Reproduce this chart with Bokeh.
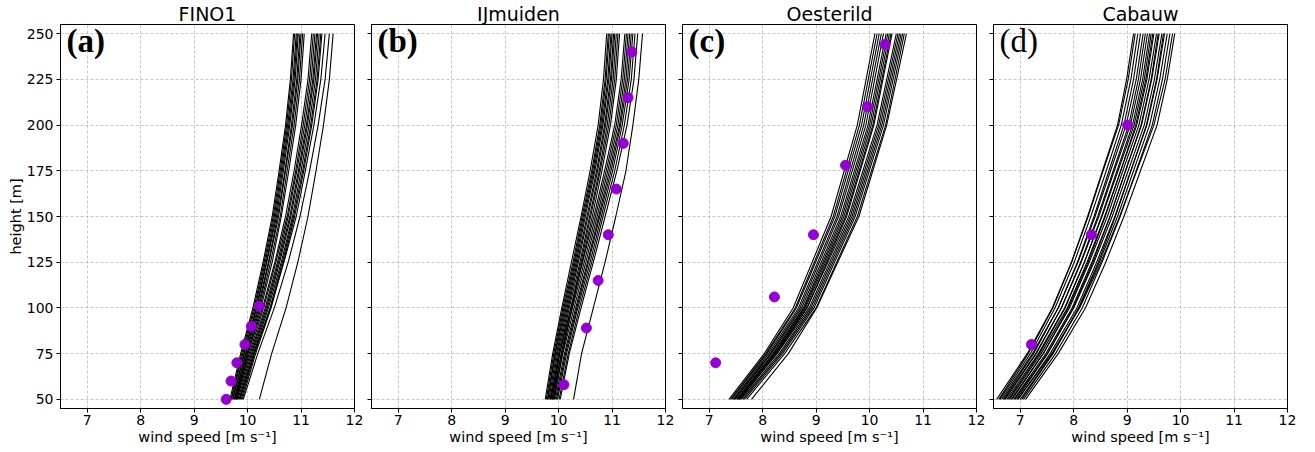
from bokeh.plotting import figure
from bokeh.layouts import row
from bokeh.models import FixedTicker, Label, Range1d, CustomJSTickFormatter, Spacer
from bokeh.embed import file_html
from bokeh.resources import INLINE

# ---------------- data ----------------
titles = ["FINO1", "IJmuiden", "Oesterild", "Cabauw"]
panel_tags = ["(a)", "(b)", "(c)", "(d)"]
x_ticks = [7, 8, 9, 10, 11, 12]
y_ticks = [50, 75, 100, 125, 150, 175, 200, 225, 250]

heights = [50, 75, 100, 125, 150, 175, 200, 225, 250]
heights_oes = [50, 75, 100, 150, 200, 250]

fino1_lines = [
    [9.67, 9.87, 10.10, 10.29, 10.46, 10.59, 10.71, 10.80, 10.86],
    [9.69, 9.89, 10.12, 10.31, 10.48, 10.61, 10.73, 10.82, 10.88],
    [9.70, 9.91, 10.14, 10.33, 10.50, 10.63, 10.75, 10.85, 10.91],
    [9.72, 9.93, 10.16, 10.35, 10.52, 10.65, 10.77, 10.87, 10.93],
    [9.73, 9.94, 10.17, 10.36, 10.54, 10.67, 10.79, 10.89, 10.95],
    [9.75, 9.96, 10.19, 10.39, 10.56, 10.70, 10.82, 10.92, 10.98],
    [9.76, 9.97, 10.21, 10.40, 10.58, 10.71, 10.84, 10.94, 11.00],
    [9.78, 9.99, 10.23, 10.43, 10.61, 10.74, 10.87, 10.97, 11.03],
    [9.80, 10.01, 10.25, 10.46, 10.63, 10.77, 10.90, 11.00, 11.06],
    [9.76, 10.00, 10.28, 10.51, 10.71, 10.87, 11.01, 11.13, 11.20],
    [9.78, 10.03, 10.30, 10.53, 10.74, 10.90, 11.04, 11.16, 11.23],
    [9.80, 10.05, 10.33, 10.56, 10.76, 10.92, 11.07, 11.19, 11.26],
    [9.82, 10.07, 10.35, 10.58, 10.79, 10.95, 11.10, 11.22, 11.29],
    [9.84, 10.09, 10.37, 10.60, 10.81, 10.97, 11.12, 11.24, 11.31],
    [9.86, 10.11, 10.39, 10.63, 10.84, 11.00, 11.15, 11.27, 11.34],
    [9.88, 10.13, 10.42, 10.65, 10.86, 11.03, 11.18, 11.30, 11.37],
    [9.90, 10.15, 10.44, 10.67, 10.88, 11.05, 11.20, 11.32, 11.39],
    [9.85, 10.12, 10.43, 10.68, 10.91, 11.08, 11.24, 11.37, 11.45],
    [9.92, 10.19, 10.50, 10.76, 10.98, 11.16, 11.32, 11.45, 11.53],
    [10.22, 10.45, 10.72, 10.94, 11.13, 11.28, 11.42, 11.53, 11.60],
]

ijmuiden_lines = [
    [9.75, 9.89, 10.06, 10.24, 10.42, 10.59, 10.74, 10.84, 10.90],
    [9.77, 9.91, 10.08, 10.27, 10.44, 10.62, 10.77, 10.87, 10.93],
    [9.79, 9.93, 10.10, 10.29, 10.46, 10.64, 10.79, 10.89, 10.95],
    [9.80, 9.94, 10.12, 10.31, 10.48, 10.66, 10.81, 10.92, 10.98],
    [9.82, 9.96, 10.14, 10.33, 10.50, 10.68, 10.83, 10.94, 11.00],
    [9.84, 9.98, 10.16, 10.35, 10.53, 10.71, 10.86, 10.97, 11.03],
    [9.86, 10.00, 10.18, 10.37, 10.55, 10.73, 10.88, 10.99, 11.05],
    [9.88, 10.02, 10.20, 10.40, 10.58, 10.76, 10.91, 11.02, 11.08],
    [9.90, 10.05, 10.23, 10.42, 10.60, 10.78, 10.94, 11.05, 11.11],
    [9.92, 10.07, 10.25, 10.44, 10.63, 10.81, 10.97, 11.08, 11.14],
    [9.85, 10.02, 10.23, 10.45, 10.66, 10.86, 11.05, 11.17, 11.24],
    [9.88, 10.05, 10.26, 10.48, 10.69, 10.89, 11.08, 11.20, 11.27],
    [9.91, 10.08, 10.29, 10.51, 10.72, 10.92, 11.11, 11.23, 11.30],
    [9.94, 10.11, 10.32, 10.54, 10.75, 10.95, 11.14, 11.26, 11.33],
    [9.96, 10.13, 10.34, 10.56, 10.77, 10.98, 11.16, 11.29, 11.36],
    [9.98, 10.15, 10.36, 10.59, 10.80, 11.01, 11.19, 11.32, 11.39],
    [10.01, 10.18, 10.39, 10.62, 10.83, 11.05, 11.23, 11.36, 11.43],
    [10.03, 10.20, 10.42, 10.65, 10.87, 11.09, 11.28, 11.41, 11.48],
    [10.28, 10.43, 10.65, 10.87, 11.07, 11.26, 11.39, 11.50, 11.57],
]

oesterild_lines = [
    [7.37, 8.03, 8.57, 9.28, 9.77, 10.10],
    [7.40, 8.06, 8.61, 9.32, 9.81, 10.14],
    [7.42, 8.08, 8.63, 9.35, 9.85, 10.18],
    [7.45, 8.11, 8.67, 9.39, 9.89, 10.22],
    [7.47, 8.14, 8.70, 9.42, 9.93, 10.26],
    [7.48, 8.16, 8.73, 9.46, 9.97, 10.31],
    [7.51, 8.19, 8.76, 9.49, 10.00, 10.34],
    [7.53, 8.21, 8.78, 9.52, 10.03, 10.37],
    [7.55, 8.23, 8.80, 9.55, 10.06, 10.40],
    [7.58, 8.26, 8.83, 9.57, 10.08, 10.42],
    [7.52, 8.24, 8.83, 9.61, 10.14, 10.50],
    [7.56, 8.27, 8.87, 9.64, 10.17, 10.53],
    [7.60, 8.31, 8.90, 9.67, 10.20, 10.56],
    [7.63, 8.34, 8.93, 9.70, 10.23, 10.59],
    [7.66, 8.37, 8.96, 9.73, 10.26, 10.62],
    [7.70, 8.41, 9.00, 9.77, 10.30, 10.65],
    [7.79, 8.48, 9.01, 9.80, 10.32, 10.69],
]

cabauw_lines = [
    [6.56, 7.13, 7.60, 7.96, 8.27, 8.55, 8.84, 9.02, 9.15],
    [6.60, 7.15, 7.61, 7.96, 8.26, 8.54, 8.82, 8.99, 9.12],
    [6.62, 7.19, 7.65, 8.01, 8.32, 8.61, 8.89, 9.07, 9.20],
    [6.65, 7.23, 7.71, 8.08, 8.40, 8.69, 8.98, 9.17, 9.30],
    [6.68, 7.25, 7.71, 8.07, 8.38, 8.66, 8.94, 9.12, 9.25],
    [6.70, 7.29, 7.77, 8.14, 8.47, 8.76, 9.06, 9.25, 9.38],
    [6.72, 7.30, 7.77, 8.13, 8.45, 8.74, 9.03, 9.21, 9.34],
    [6.75, 7.34, 7.83, 8.20, 8.53, 8.83, 9.13, 9.32, 9.45],
    [6.78, 7.36, 7.84, 8.20, 8.52, 8.81, 9.10, 9.29, 9.42],
    [6.80, 7.39, 7.88, 8.25, 8.58, 8.88, 9.18, 9.37, 9.50],
    [6.83, 7.43, 7.92, 8.29, 8.63, 8.92, 9.22, 9.41, 9.55],
    [6.85, 7.43, 7.90, 8.27, 8.59, 8.88, 9.16, 9.35, 9.48],
    [6.88, 7.48, 7.97, 8.34, 8.68, 8.97, 9.27, 9.46, 9.60],
    [6.90, 7.51, 8.00, 8.38, 8.72, 9.02, 9.32, 9.51, 9.65],
    [6.93, 7.51, 7.99, 8.36, 8.68, 8.97, 9.26, 9.45, 9.58],
    [6.96, 7.56, 8.06, 8.43, 8.77, 9.07, 9.37, 9.56, 9.70],
    [7.00, 7.61, 8.10, 8.48, 8.82, 9.12, 9.42, 9.61, 9.75],
    [7.03, 7.61, 8.09, 8.46, 8.78, 9.07, 9.36, 9.55, 9.68],
    [7.06, 7.66, 8.16, 8.53, 8.87, 9.17, 9.47, 9.66, 9.80],
    [7.10, 7.71, 8.22, 8.60, 8.94, 9.25, 9.56, 9.75, 9.89],
    [6.95, 7.59, 8.11, 8.51, 8.86, 9.18, 9.50, 9.71, 9.85],
]

fino1_obs_speed = [9.60, 9.69, 9.80, 9.95, 10.07, 10.22]
fino1_obs_height = [50, 60, 70, 80, 90, 101]
ijmuiden_obs_speed = [10.10, 10.52, 10.74, 10.93, 11.08, 11.21, 11.30, 11.37]
ijmuiden_obs_height = [58, 89, 115, 140, 165, 190, 215, 240]
oesterild_obs_speed = [7.12, 8.22, 8.95, 9.55, 9.96, 10.29]
oesterild_obs_height = [70, 106, 140, 178, 210, 244]
cabauw_obs_speed = [7.21, 8.33, 9.01]
cabauw_obs_height = [80, 140, 200]

panels = [
    (fino1_lines, heights, fino1_obs_speed, fino1_obs_height),
    (ijmuiden_lines, heights, ijmuiden_obs_speed, ijmuiden_obs_height),
    (oesterild_lines, heights_oes, oesterild_obs_speed, oesterild_obs_height),
    (cabauw_lines, heights, cabauw_obs_speed, cabauw_obs_height),
]

FONT = "DejaVu Sans"
FIG_H = 447
figs = []
for i, (lines, hts, obs_x, obs_y) in enumerate(panels):
    first = i == 0
    last = i == 3
    p = figure(
        frame_width=294, height=FIG_H,
        x_range=Range1d(6.5, 12), y_range=Range1d(45, 255),
        output_backend="svg", toolbar_location=None,
        title=titles[i],
        min_border_left=53 if first else 8,
        min_border_right=10 if last else 9,
        min_border_top=0, min_border_bottom=0,
        background_fill_color="white", border_fill_color="white",
    )
    p.title.align = "center"
    p.title.text_font = FONT
    p.title.text_font_size = "19px"
    p.title.text_font_style = "normal"
    p.title.text_color = "black"
    p.title.standoff = 0

    p.outline_line_color = "black"
    p.outline_line_width = 1
    p.outline_line_alpha = 1

    for ax in (p.xaxis, p.yaxis):
        ax.axis_line_color = "black"
        ax.major_tick_line_color = "black"
        ax.major_tick_out = 4
        ax.major_tick_in = 0
        ax.minor_tick_line_color = None
        ax.major_label_text_font = FONT
        ax.major_label_text_font_size = "14px"
        ax.major_label_text_color = "black"
        ax.axis_label_text_font = FONT
        ax.axis_label_text_font_size = "14.5px"
        ax.axis_label_text_font_style = "normal"
        ax.axis_label_text_color = "black"

    p.xaxis.ticker = FixedTicker(ticks=x_ticks)
    p.yaxis.ticker = FixedTicker(ticks=y_ticks)
    p.xaxis.axis_label = "wind speed [m s\u207b\u00b9]"
    p.xaxis.major_label_standoff = 2
    p.xaxis.axis_label_standoff = 1
    if first:
        p.yaxis.axis_label = "height [m]"
        p.yaxis.major_label_standoff = 3
        p.yaxis.axis_label_standoff = 0
    else:
        p.yaxis.formatter = CustomJSTickFormatter(code="return ''")
        p.yaxis.major_label_standoff = 0

    for g in (p.xgrid, p.ygrid):
        g.grid_line_color = "#b8b8b8"
        g.grid_line_dash = "3 2"
        g.grid_line_width = 0.8
    p.xgrid.ticker = FixedTicker(ticks=x_ticks)
    p.ygrid.ticker = FixedTicker(ticks=y_ticks)

    p.multi_line(xs=lines, ys=[hts] * len(lines), line_color="black", line_width=1.1)
    p.scatter(x=obs_x, y=obs_y, size=10, marker="circle",
              fill_color="#9400d3", line_color="#9400d3")

    p.add_layout(Label(
        x=6.5, y=255, x_offset=6, y_offset=2,
        text=panel_tags[i], text_baseline="top", text_align="left",
        text_font="Liberation Serif", text_font_size="33px",
        text_font_style="normal" if last else "bold", text_color="black",
    ))
    figs.append(p)

layout = row(Spacer(width=4, height=FIG_H), *figs, spacing=0)
open("out.html", "w").write(file_html(layout, INLINE))
